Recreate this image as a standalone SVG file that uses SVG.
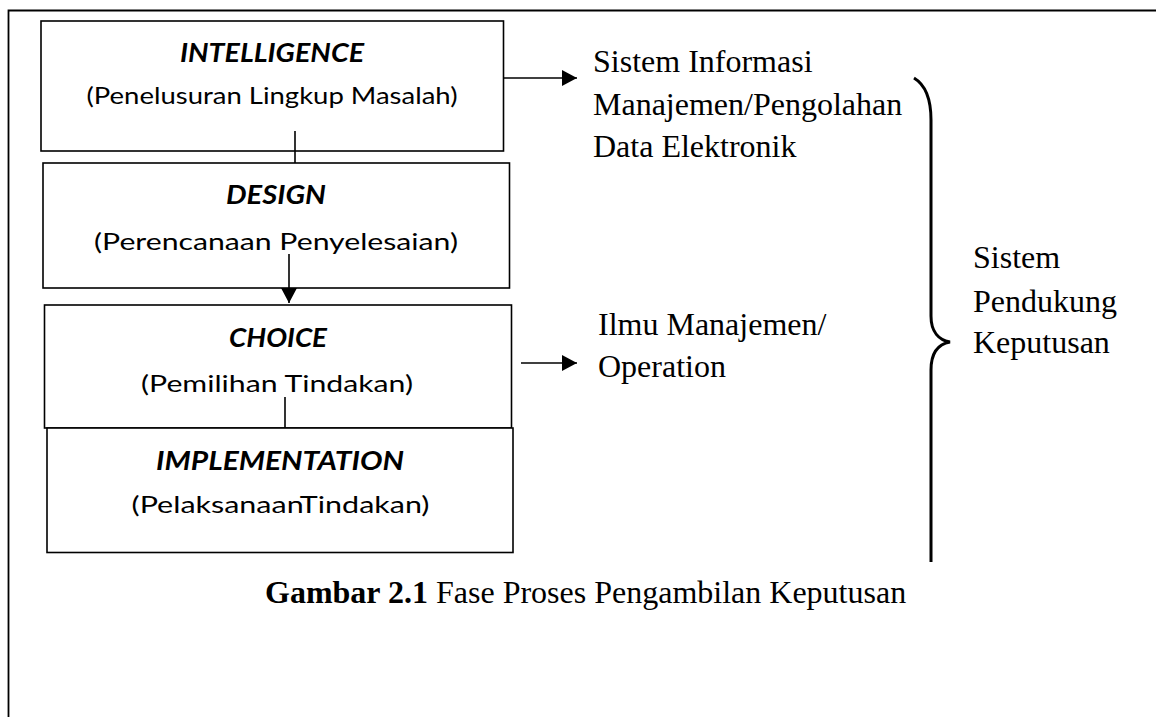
<svg xmlns="http://www.w3.org/2000/svg" width="1156" height="717" viewBox="0 0 1156 717">
  <style>
    .box { fill: #ffffff; stroke: #000000; stroke-width: 1.6; }
    .head { font-family: Lato, "Open Sans", "Liberation Sans", sans-serif; font-weight: bold; font-style: italic; font-size: 27px; fill: #000; text-anchor: middle; }
    .sub { font-family: Lato, "Open Sans", "Liberation Sans", sans-serif; font-size: 23px; fill: #000; text-anchor: middle; }
    .serif { font-family: "Liberation Serif", "Times New Roman", serif; font-size: 32px; fill: #000; }
    .conn { stroke: #000000; stroke-width: 1.6; fill: none; }
  </style>
  <defs>
    <marker id="arrow" markerUnits="userSpaceOnUse" markerWidth="16" markerHeight="16" refX="15" refY="8" orient="auto">
      <path d="M0,0 L15,8 L0,16 Z" fill="#000"/>
    </marker>
  </defs>

  <rect width="1156" height="717" fill="#ffffff"/>

  <!-- page frame -->
  <path d="M8.5,717 L8.5,10.5 L1156,10.5" fill="none" stroke="#000" stroke-width="1.8"/>

  <!-- phase boxes -->
  <g id="intelligence">
    <rect class="box" x="41" y="21" width="462.5" height="130"/>
    <text class="head" x="272" y="62" textLength="184" lengthAdjust="spacingAndGlyphs">INTELLIGENCE</text>
    <text class="sub" x="272" y="104" textLength="371" lengthAdjust="spacingAndGlyphs">(Penelusuran Lingkup Masalah)</text>
  </g>

  <g id="design">
    <rect class="box" x="43" y="163" width="466.5" height="125"/>
    <text class="head" x="276" y="204" textLength="100" lengthAdjust="spacingAndGlyphs">DESIGN</text>
    <text class="sub" x="276" y="250" textLength="364" lengthAdjust="spacingAndGlyphs">(Perencanaan Penyelesaian)</text>
  </g>

  <g id="choice">
    <rect class="box" x="44.5" y="305" width="467" height="123"/>
    <text class="head" x="278" y="347" textLength="98" lengthAdjust="spacingAndGlyphs">CHOICE</text>
    <text class="sub" x="277" y="392" textLength="272" lengthAdjust="spacingAndGlyphs">(Pemilihan Tindakan)</text>
  </g>

  <g id="implementation">
    <rect class="box" x="47" y="428" width="466" height="124.5"/>
    <text class="head" x="280" y="470" textLength="248" lengthAdjust="spacingAndGlyphs">IMPLEMENTATION</text>
    <text class="sub" x="280.5" y="513" textLength="298" lengthAdjust="spacingAndGlyphs">(PelaksanaanTindakan)</text>
  </g>

  <!-- connectors -->
  <g id="connectors">
    <line class="conn" x1="295" y1="131" x2="295" y2="163"/>
    <line class="conn" x1="289" y1="254" x2="289" y2="303" marker-end="url(#arrow)"/>
    <line class="conn" x1="285" y1="397" x2="285" y2="428"/>
    <line class="conn" x1="503.5" y1="78" x2="577" y2="78" marker-end="url(#arrow)"/>
    <line class="conn" x1="521" y1="363" x2="577" y2="363" marker-end="url(#arrow)"/>
  </g>

  <!-- outcome labels -->
  <g id="sim">
    <text class="serif" x="593" y="72">Sistem Informasi</text>
    <text class="serif" x="593" y="115">Manajemen/Pengolahan</text>
    <text class="serif" x="593" y="157">Data Elektronik</text>
  </g>

  <g id="ilmu">
    <text class="serif" x="598" y="335">Ilmu Manajemen/</text>
    <text class="serif" x="598" y="377">Operation</text>
  </g>

  <!-- curly brace grouping the phases -->
  <g id="brace">
    <path d="M914,78 C924,84 931,98 931,120 L931,316 C931,332 939,340 950,342 C939,344 931,352 931,370 L931,562" fill="none" stroke="#000" stroke-width="3"/>
  </g>

  <g id="spk">
    <text class="serif" x="973" y="268">Sistem</text>
    <text class="serif" x="973" y="312">Pendukung</text>
    <text class="serif" x="973" y="353">Keputusan</text>
  </g>

  <!-- caption -->
  <g id="caption">
    <text class="serif" x="265" y="603"><tspan font-weight="bold">Gambar 2.1</tspan> Fase Proses Pengambilan Keputusan</text>
  </g>
</svg>
